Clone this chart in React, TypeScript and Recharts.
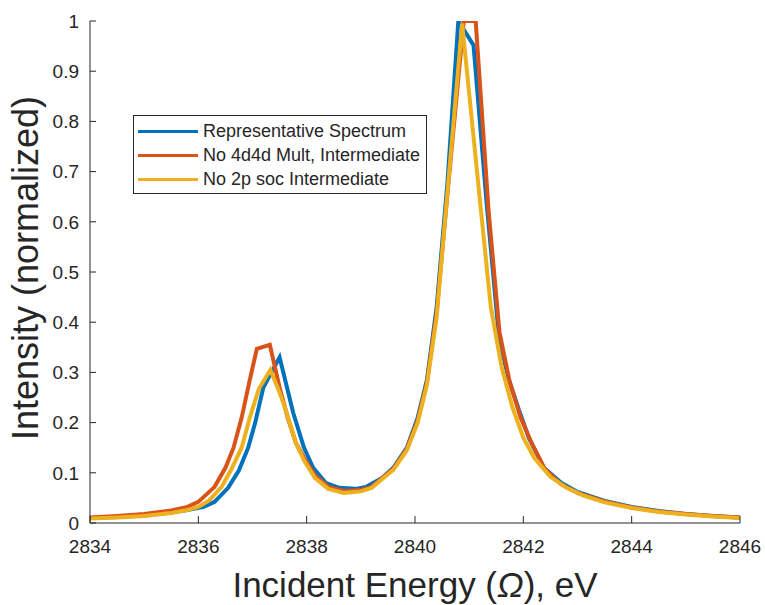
import { LineChart, Line, XAxis, YAxis, Label } from 'recharts';

const AXIS = '#262626';
const FONT = '"Liberation Sans", Arial, Helvetica, sans-serif';

const seriesNames = ['Representative Spectrum', 'No 4d4d Mult, Intermediate', 'No 2p soc Intermediate'];
const seriesColors = ['#0072BD', '#D95319', '#EDB120'];

const blueEnergy = [
  2834, 2834.5, 2835, 2835.5, 2835.8, 2836.1, 2836.3, 2836.55, 2836.75, 2836.92,
  2837.05, 2837.2, 2837.5, 2837.75, 2837.95, 2838.12, 2838.35, 2838.6, 2838.9, 2839.1,
  2839.4, 2839.6, 2839.85, 2840.05, 2840.22, 2840.4, 2840.6, 2840.8, 2841.08, 2841.32,
  2841.55, 2841.72, 2841.92, 2842.1, 2842.38, 2842.7, 2843, 2843.5, 2844, 2844.5,
  2845, 2845.5, 2846,
];
const blueIntensity = [
  0.01, 0.012, 0.015, 0.021, 0.026, 0.032, 0.042, 0.07, 0.105, 0.15,
  0.2, 0.27, 0.33, 0.22, 0.15, 0.11, 0.08, 0.07, 0.068, 0.072,
  0.09, 0.11, 0.15, 0.21, 0.285, 0.43, 0.68, 1.0, 0.952, 0.64,
  0.37, 0.29, 0.225, 0.17, 0.11, 0.08, 0.062, 0.044, 0.032, 0.024,
  0.018, 0.014, 0.011,
];

const redEnergy = [
  2834, 2834.5, 2835, 2835.5, 2835.8, 2836, 2836.3, 2836.5, 2836.65, 2836.8,
  2836.95, 2837.08, 2837.32, 2837.5, 2837.65, 2837.8, 2837.95, 2838.15, 2838.4, 2838.7,
  2839, 2839.2, 2839.4, 2839.6, 2839.85, 2840.05, 2840.22, 2840.4, 2840.62, 2840.9,
  2841.12, 2841.36, 2841.56, 2841.75, 2841.95, 2842.15, 2842.4, 2842.7, 2843, 2843.5,
  2844, 2844.5, 2845, 2845.5, 2846,
];
const redIntensity = [
  0.011, 0.014, 0.018, 0.025, 0.032, 0.042, 0.072, 0.11, 0.15, 0.21,
  0.285, 0.347, 0.355, 0.27, 0.21, 0.16, 0.13, 0.095, 0.072, 0.064,
  0.066, 0.072, 0.09, 0.108, 0.148, 0.205, 0.28, 0.42, 0.68, 1.0,
  1.0, 0.62, 0.38, 0.28, 0.21, 0.16, 0.107, 0.077, 0.06, 0.043,
  0.031, 0.023, 0.018, 0.014, 0.011,
];

const yellowEnergy = [
  2834, 2834.5, 2835, 2835.5, 2835.8, 2836, 2836.2, 2836.43, 2836.6, 2836.8,
  2836.95, 2837.12, 2837.33, 2837.5, 2837.63, 2837.8, 2837.95, 2838.15, 2838.4, 2838.68,
  2839, 2839.2, 2839.4, 2839.6, 2839.85, 2840.05, 2840.22, 2840.4, 2840.6, 2840.87,
  2841.22, 2841.4, 2841.6, 2841.8, 2842, 2842.2, 2842.5, 2842.8, 2843.1, 2843.5,
  2844, 2844.5, 2845, 2845.5, 2846,
];
const yellowIntensity = [
  0.009, 0.011, 0.014, 0.02, 0.026, 0.032, 0.045, 0.072, 0.105, 0.15,
  0.21, 0.268, 0.305, 0.26, 0.22, 0.16, 0.125, 0.09, 0.068, 0.06,
  0.063, 0.07, 0.088, 0.106, 0.145, 0.2, 0.275, 0.41, 0.66, 0.995,
  0.62, 0.43, 0.31, 0.23, 0.17, 0.13, 0.092, 0.07, 0.055, 0.041,
  0.03, 0.022, 0.017, 0.013, 0.01,
];

const xTicks = [2834, 2836, 2838, 2840, 2842, 2844, 2846];
const yTicks = [0, 0.1, 0.2, 0.3, 0.4, 0.5, 0.6, 0.7, 0.8, 0.9, 1];

const toPoints = (xs: number[], ys: number[]) => xs.map((x, i) => ({ energy: x, intensity: ys[i] }));

const series = [
  toPoints(blueEnergy, blueIntensity),
  toPoints(redEnergy, redIntensity),
  toPoints(yellowEnergy, yellowIntensity),
];

// MATLAB-style ticks: marks point into the plot
const XTick = ({ x, y, payload }: any) => (
  <g>
    <line x1={x} y1={y} x2={x} y2={y - 7} stroke={AXIS} strokeWidth={1} />
    <text x={x} y={y + 30} textAnchor="middle" fill={AXIS} fontSize={19} fontFamily={FONT}>
      {payload.value}
    </text>
  </g>
);

const YTick = ({ x, y, payload }: any) => (
  <g>
    <line x1={x} y1={y} x2={x + 6} y2={y} stroke={AXIS} strokeWidth={1} />
    <text x={x - 11} y={y} dy="0.36em" textAnchor="end" fill={AXIS} fontSize={19} fontFamily={FONT}>
      {String(payload.value)}
    </text>
  </g>
);

const XTitle = ({ viewBox }: any) => (
  <text x={viewBox.x + viewBox.width / 2} y={597} textAnchor="middle" fill={AXIS} fontSize={35} fontFamily={FONT}>
    Incident Energy (<tspan fontStyle="italic">Ω</tspan>), eV
  </text>
);

const YTitle = ({ viewBox }: any) => {
  const cy = viewBox.y + viewBox.height / 2 - 4;
  return (
    <text x={38} y={cy} transform={`rotate(-90, 38, ${cy})`} textAnchor="middle" fill={AXIS} fontSize={36} fontFamily={FONT}>
      Intensity (normalized)
    </text>
  );
};

const LegendBox = () => (
  <div
    style={{
      position: 'absolute',
      left: 133,
      top: 115,
      boxSizing: 'border-box',
      width: 294,
      height: 79,
      border: `1px solid ${AXIS}`,
      background: '#fff',
      paddingTop: 3,
      fontFamily: FONT,
    }}
  >
    {seriesNames.map((name, i) => (
      <div key={name} style={{ display: 'flex', alignItems: 'center', height: 24 }}>
        <span style={{ display: 'inline-block', width: 60, height: 3, background: seriesColors[i], marginLeft: 4, marginRight: 5 }} />
        <span style={{ fontSize: 18, color: AXIS, whiteSpace: 'nowrap' }}>{name}</span>
      </div>
    ))}
  </div>
);

export default function App() {
  return (
    <div style={{ position: 'absolute', left: 0, top: 0, width: 765, height: 605, background: '#fff' }}>
      <LineChart width={765} height={605} margin={{ top: 21, right: 25, bottom: 22, left: 0 }}>
        <XAxis
          dataKey="energy"
          type="number"
          domain={[2834, 2846]}
          ticks={xTicks}
          tick={<XTick />}
          tickLine={false}
          tickSize={0}
          tickMargin={0}
          height={60}
          axisLine={{ stroke: AXIS, strokeWidth: 1 }}
          allowDataOverflow
        >
          <Label content={<XTitle />} />
        </XAxis>
        <YAxis
          type="number"
          domain={[0, 1]}
          ticks={yTicks}
          tick={<YTick />}
          tickLine={false}
          tickSize={0}
          tickMargin={0}
          width={90}
          axisLine={{ stroke: AXIS, strokeWidth: 1 }}
          allowDataOverflow
        >
          <Label content={<YTitle />} />
        </YAxis>
        {series.map((data, i) => (
          <Line
            key={seriesNames[i]}
            data={data}
            dataKey="intensity"
            name={seriesNames[i]}
            type="linear"
            stroke={seriesColors[i]}
            strokeWidth={4}
            dot={false}
            activeDot={false}
            isAnimationActive={false}
          />
        ))}
      </LineChart>
      <LegendBox />
    </div>
  );
}
